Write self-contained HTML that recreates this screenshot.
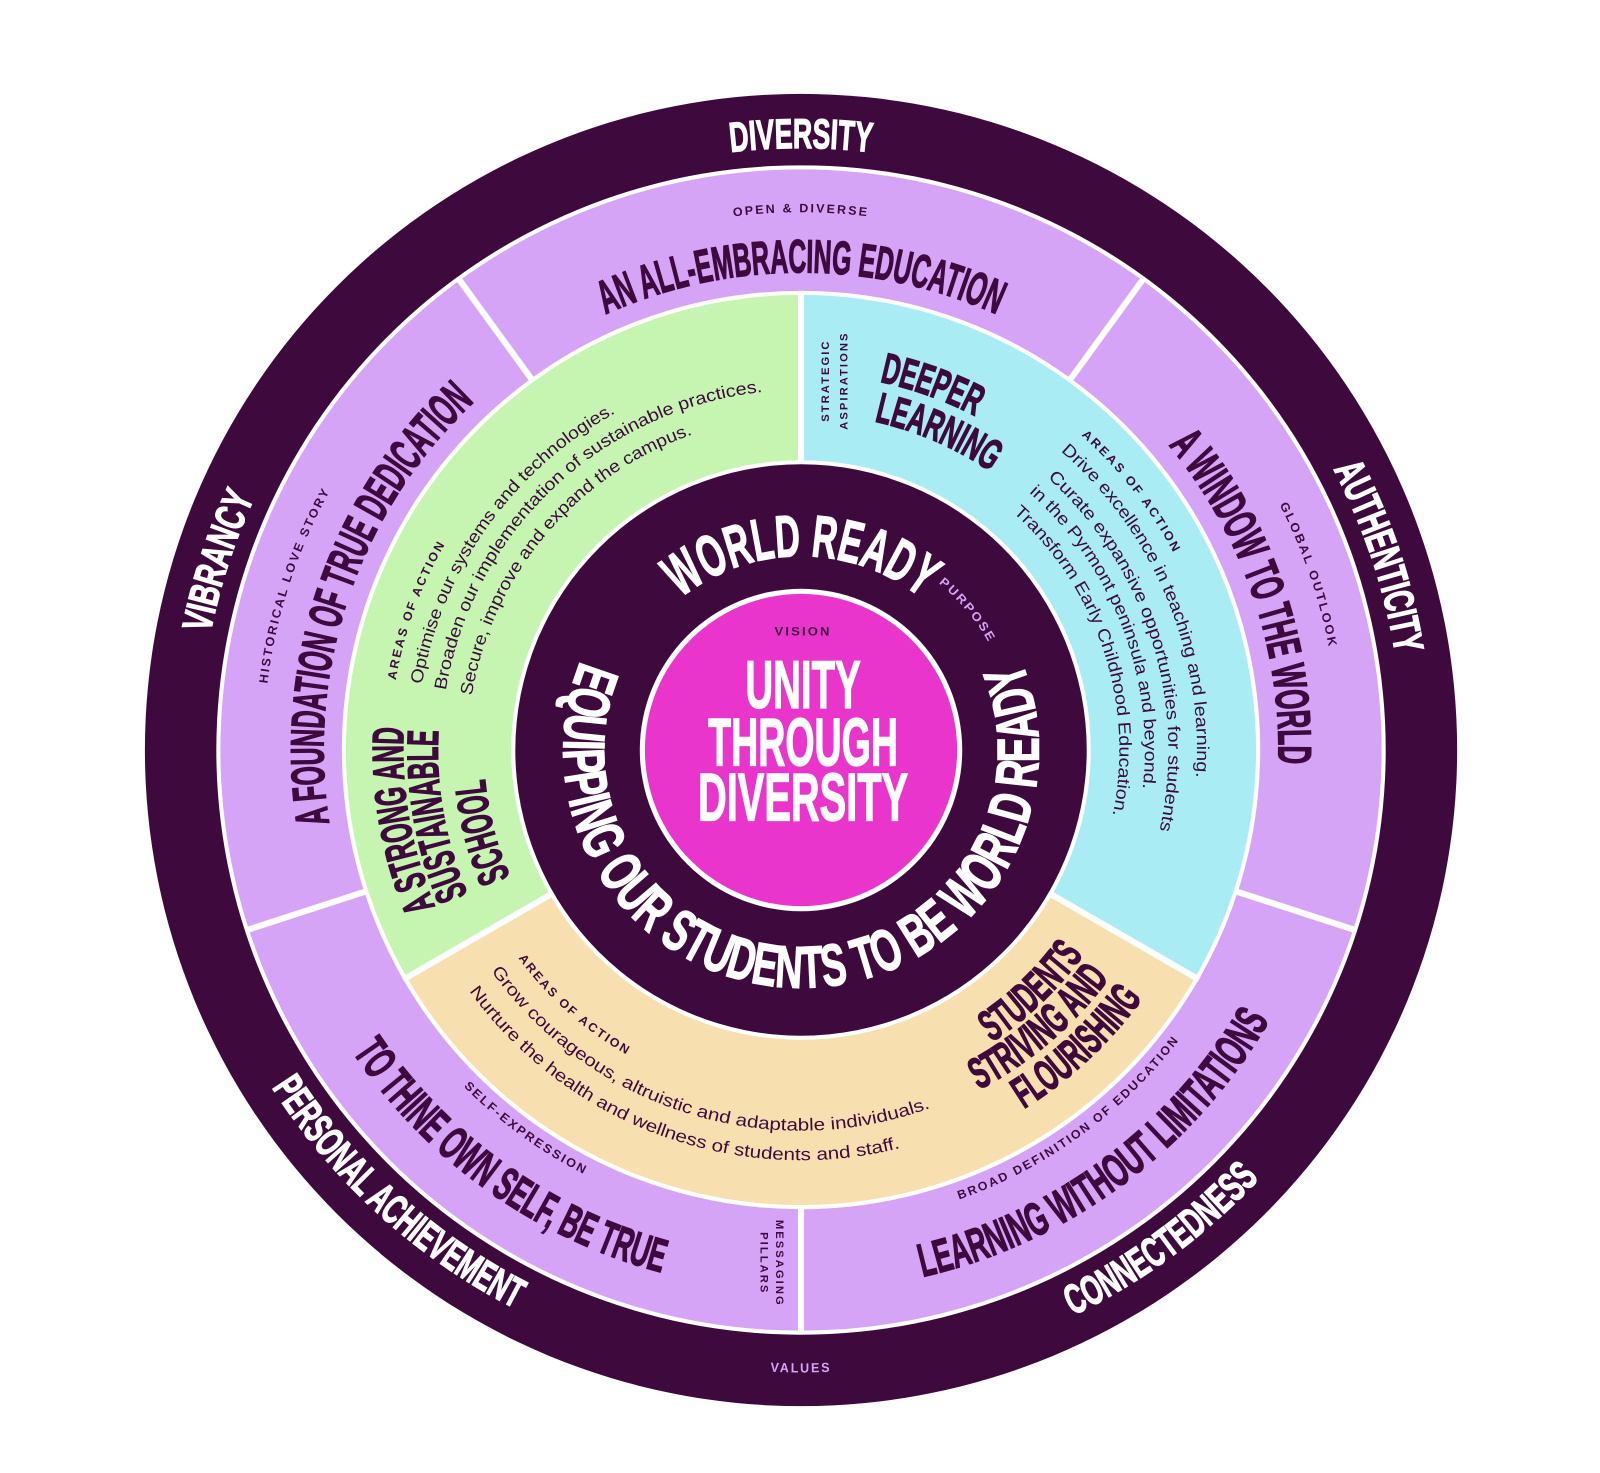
<!DOCTYPE html>
<html><head><meta charset="utf-8">
<style>
html,body{margin:0;padding:0;background:#fff;}
svg{display:block;}
.b{font-family:"Liberation Sans Narrow","Liberation Sans",sans-serif;font-weight:bold;}
.s{font-family:"Liberation Sans",sans-serif;font-weight:bold;letter-spacing:2px;}
.r{font-family:"Liberation Sans",sans-serif;}
.bw{stroke:#fff;stroke-width:1.3;}
.bd{stroke:#3e0a3e;stroke-width:1.3;}
</style></head>
<body>
<svg width="1600" height="1473" viewBox="0 0 1568 1443.5" xmlns="http://www.w3.org/2000/svg">
<defs>
<path id="cw590" d="M785,1325 A590,590 0 0 1 785,145 A590,590 0 0 1 785,1325"/>
<path id="cw527" d="M785,1262 A527,527 0 0 1 785,208 A527,527 0 0 1 785,1262"/>
<path id="cw468" d="M785,1203 A468,468 0 0 1 785,267 A468,468 0 0 1 785,1203"/>
<path id="cw413" d="M785,1148 A413,413 0 0 1 785,322 A413,413 0 0 1 785,1148"/>
<path id="cw388" d="M785,1123 A388,388 0 0 1 785,347 A388,388 0 0 1 785,1123"/>
<path id="cw360" d="M785,1095 A360,360 0 0 1 785,375 A360,360 0 0 1 785,1095"/>
<path id="cw337" d="M785,1072 A337,337 0 0 1 785,398 A337,337 0 0 1 785,1072"/>
<path id="cw312" d="M785,1047 A312,312 0 0 1 785,423 A312,312 0 0 1 785,1047"/>
<path id="cw369" d="M785,1104 A369,369 0 0 1 785,366 A369,369 0 0 1 785,1104"/>
<path id="cw330" d="M785,1065 A330,330 0 0 1 785,405 A330,330 0 0 1 785,1065"/>
<path id="cw403" d="M785,1138 A403,403 0 0 1 785,332 A403,403 0 0 1 785,1138"/>
<path id="cw377" d="M785,1112 A377,377 0 0 1 785,358 A377,377 0 0 1 785,1112"/>
<path id="cw353" d="M785,1088 A353,353 0 0 1 785,382 A353,353 0 0 1 785,1088"/>
<path id="cw327" d="M785,1062 A327,327 0 0 1 785,408 A327,327 0 0 1 785,1062"/>
<path id="cw390" d="M785,1125 A390,390 0 0 1 785,345 A390,390 0 0 1 785,1125"/>
<path id="cw356" d="M785,1091 A356,356 0 0 1 785,379 A356,356 0 0 1 785,1091"/>
<path id="cw311" d="M785,1046 A311,311 0 0 1 785,424 A311,311 0 0 1 785,1046"/>
<path id="cw190" d="M785,925 A190,190 0 0 1 785,545 A190,190 0 0 1 785,925"/>
<path id="cw212" d="M785,947 A212,212 0 0 1 785,523 A212,212 0 0 1 785,947"/>
<path id="ccw615" d="M785,120 A615,615 0 0 0 785,1350 A615,615 0 0 0 785,120"/>
<path id="ccw610" d="M785,125 A610,610 0 0 0 785,1345 A610,610 0 0 0 785,125"/>
<path id="ccw530" d="M785,205 A530,530 0 0 0 785,1265 A530,530 0 0 0 785,205"/>
<path id="ccw467" d="M785,268 A467,467 0 0 0 785,1202 A467,467 0 0 0 785,268"/>
<path id="ccw344" d="M785,391 A344,344 0 0 0 785,1079 A344,344 0 0 0 785,391"/>
<path id="ccw373" d="M785,362 A373,373 0 0 0 785,1108 A373,373 0 0 0 785,362"/>
<path id="ccw402" d="M785,333 A402,402 0 0 0 785,1137 A402,402 0 0 0 785,333"/>
<path id="ccw342" d="M785,393 A342,342 0 0 0 785,1077 A342,342 0 0 0 785,393"/>
<path id="ccw376" d="M785,359 A376,376 0 0 0 785,1111 A376,376 0 0 0 785,359"/>
<path id="ccw414" d="M785,321 A414,414 0 0 0 785,1149 A414,414 0 0 0 785,321"/>
<path id="ccw233" d="M785,502 A233,233 0 0 0 785,968 A233,233 0 0 0 785,502"/>
</defs>

<circle cx="785" cy="735" r="643" fill="#3e0a3e"/>
<circle cx="785" cy="735" r="573" fill="#fff"/>
<circle cx="785" cy="735" r="569" fill="#d6a4f7"/>
<g stroke="#fff" stroke-width="6">
<line x1="785" y1="735" x2="785" y2="1306" transform="rotate(-144 785 735)" />
<line x1="785" y1="735" x2="785" y2="1306" transform="rotate(-72 785 735)" />
<line x1="785" y1="735" x2="785" y2="1306" />
<line x1="785" y1="735" x2="785" y2="1306" transform="rotate(72 785 735)" />
<line x1="785" y1="735" x2="785" y2="1306" transform="rotate(144 785 735)" />
</g>
<circle cx="785" cy="735" r="450" fill="#fff"/>
<path d="M785,735 L785,289 A446,446 0 0 1 1171.2,958 Z" fill="#a9ecf4"/>
<path d="M785,735 L1171.2,958 A446,446 0 0 1 398.8,958 Z" fill="#f8dfaf"/>
<path d="M785,735 L398.8,958 A446,446 0 0 1 785,289 Z" fill="#c5f5b1"/>
<g stroke="#fff" stroke-width="6">
<line x1="785" y1="735" x2="785" y2="285"/>
<line x1="785" y1="735" x2="1175" y2="960"/>
<line x1="785" y1="735" x2="395" y2="960"/>
</g>
<circle cx="785" cy="735" r="284" fill="#fff"/>
<circle cx="785" cy="735" r="280" fill="#3e0a3e"/>
<circle cx="785" cy="735" r="158" fill="#fff"/>
<circle cx="785" cy="735" r="153" fill="#e935cc"/>

<g class="b bw" fill="#fff" font-size="41" text-anchor="middle">
<text><textPath href="#cw590" startOffset="50%" textLength="138" lengthAdjust="spacingAndGlyphs">DIVERSITY</textPath></text>
<text transform="rotate(-72 785 735)"><textPath href="#cw590" startOffset="50%" textLength="140" lengthAdjust="spacingAndGlyphs">VIBRANCY</textPath></text>
<text transform="rotate(71.5 785 735)"><textPath href="#cw590" startOffset="50%" textLength="192" lengthAdjust="spacingAndGlyphs">AUTHENTICITY</textPath></text>
<text transform="rotate(42.3 785 735)"><textPath href="#ccw615" startOffset="50%" textLength="326" lengthAdjust="spacingAndGlyphs">PERSONAL ACHIEVEMENT</textPath></text>
<text transform="rotate(-36.3 785 735)"><textPath href="#ccw615" startOffset="50%" textLength="228" lengthAdjust="spacingAndGlyphs">CONNECTEDNESS</textPath></text>
</g>
<text class="s" fill="#d6a4f7" font-size="13" text-anchor="middle"><textPath href="#ccw610" startOffset="50%" textLength="60" lengthAdjust="spacingAndGlyphs">VALUES</textPath></text>

<g class="s" fill="#3e0a3e" font-size="12" text-anchor="middle">
<text><textPath href="#cw527" startOffset="50%" textLength="133" lengthAdjust="spacingAndGlyphs">OPEN &amp; DIVERSE</textPath></text>
<text transform="rotate(71 785 735)"><textPath href="#cw527" startOffset="50%" textLength="150" lengthAdjust="spacingAndGlyphs">GLOBAL OUTLOOK</textPath></text>
<text transform="rotate(-72 785 735)"><textPath href="#cw527" startOffset="50%" textLength="201" lengthAdjust="spacingAndGlyphs">HISTORICAL LOVE STORY</textPath></text>
<text transform="rotate(-36 785 735)"><textPath href="#ccw467" startOffset="50%" textLength="271" lengthAdjust="spacingAndGlyphs">BROAD DEFINITION OF EDUCATION</textPath></text>
<text transform="rotate(36 785 735)"><textPath href="#ccw467" startOffset="50%" textLength="148" lengthAdjust="spacingAndGlyphs">SELF-EXPRESSION</textPath></text>
</g>
<g class="b bd" fill="#3e0a3e" font-size="46" text-anchor="middle">
<text><textPath href="#cw468" startOffset="50%" textLength="395" lengthAdjust="spacingAndGlyphs">AN ALL-EMBRACING EDUCATION</textPath></text>
<text transform="rotate(71 785 735)"><textPath href="#cw468" startOffset="50%" textLength="338" lengthAdjust="spacingAndGlyphs">A WINDOW TO THE WORLD</textPath></text>
<text transform="rotate(-71 785 735)"><textPath href="#cw468" startOffset="50%" textLength="455" lengthAdjust="spacingAndGlyphs">A FOUNDATION OF TRUE DEDICATION</textPath></text>
<text transform="rotate(-36.5 785 735)"><textPath href="#ccw530" startOffset="50%" textLength="435" lengthAdjust="spacingAndGlyphs">LEARNING WITHOUT LIMITATIONS</textPath></text>
<text transform="rotate(35.5 785 735)"><textPath href="#ccw530" startOffset="50%" textLength="380" lengthAdjust="spacingAndGlyphs">TO THINE OWN SELF, BE TRUE</textPath></text>
</g>
<g class="s" fill="#3e0a3e" font-size="11" text-anchor="middle">
<text transform="translate(757 1238) rotate(90)"><tspan x="0" y="-3.5">MESSAGING</tspan><tspan x="0" y="11.5">PILLARS</tspan></text>
<text transform="translate(817 373) rotate(-90)"><tspan x="0" y="-4.5">STRATEGIC</tspan><tspan x="0" y="13.5">ASPIRATIONS</tspan></text>
</g>

<g fill="#3e0a3e" text-anchor="middle">
<text class="s" font-size="12" transform="rotate(52 785 735)"><textPath href="#cw413" startOffset="50%" textLength="149" lengthAdjust="spacingAndGlyphs">AREAS OF ACTION</textPath></text>
<text class="r" font-size="17" transform="rotate(67.5 785 735)"><textPath href="#cw388" startOffset="50%" textLength="359" lengthAdjust="spacingAndGlyphs">Drive excellence in teaching and learning.</textPath></text>
<text class="r" font-size="17" transform="rotate(72.4 785 735)"><textPath href="#cw360" startOffset="50%" textLength="380" lengthAdjust="spacingAndGlyphs">Curate expansive opportunities for students</textPath></text>
<text class="r" font-size="17" transform="rotate(69 785 735)"><textPath href="#cw337" startOffset="50%" textLength="323" lengthAdjust="spacingAndGlyphs">in the Pyrmont peninsula and beyond.</textPath></text>
<text class="r" font-size="17" transform="rotate(71.8 785 735)"><textPath href="#cw312" startOffset="50%" textLength="327" lengthAdjust="spacingAndGlyphs">Transform Early Childhood Education.</textPath></text>
<text class="b bd" font-size="42" transform="rotate(19.8 785 735)"><textPath href="#cw369" startOffset="50%" textLength="100" lengthAdjust="spacingAndGlyphs">DEEPER</textPath></text>
<text class="b bd" font-size="42" transform="rotate(23.4 785 735)"><textPath href="#cw330" startOffset="50%" textLength="125" lengthAdjust="spacingAndGlyphs">LEARNING</textPath></text>
</g>

<g fill="#3e0a3e" text-anchor="middle">
<text class="s" font-size="12" transform="rotate(-70 785 735)"><textPath href="#cw403" startOffset="50%" textLength="144" lengthAdjust="spacingAndGlyphs">AREAS OF ACTION</textPath></text>
<text class="r" font-size="17" transform="rotate(-54.5 785 735)"><textPath href="#cw377" startOffset="50%" textLength="338" lengthAdjust="spacingAndGlyphs">Optimise our systems and technologies.</textPath></text>
<text class="r" font-size="17" transform="rotate(-43.3 785 735)"><textPath href="#cw353" startOffset="50%" textLength="458" lengthAdjust="spacingAndGlyphs">Broaden our implementation of sustainable practices.</textPath></text>
<text class="r" font-size="17" transform="rotate(-49.8 785 735)"><textPath href="#cw327" startOffset="50%" textLength="352" lengthAdjust="spacingAndGlyphs">Secure, improve and expand the campus.</textPath></text>
<text class="b bd" font-size="43" transform="rotate(-100 785 735)"><textPath href="#cw390" startOffset="50%" textLength="180" lengthAdjust="spacingAndGlyphs">A STRONG AND</textPath></text>
<text class="b bd" font-size="43" transform="rotate(-100.2 785 735)"><textPath href="#cw356" startOffset="50%" textLength="165" lengthAdjust="spacingAndGlyphs">SUSTAINABLE</textPath></text>
<text class="b bd" font-size="43" transform="rotate(-104.4 785 735)"><textPath href="#cw311" startOffset="50%" textLength="100" lengthAdjust="spacingAndGlyphs">SCHOOL</textPath></text>
</g>

<g fill="#3e0a3e" text-anchor="middle">
<text class="s" font-size="12" transform="rotate(41.6 785 735)"><textPath href="#ccw344" startOffset="50%" textLength="145" lengthAdjust="spacingAndGlyphs">AREAS OF ACTION</textPath></text>
<text class="r" font-size="17" transform="rotate(17.3 785 735)"><textPath href="#ccw373" startOffset="50%" textLength="484" lengthAdjust="spacingAndGlyphs">Grow courageous, altruistic and adaptable individuals.</textPath></text>
<text class="r" font-size="17" transform="rotate(20 785 735)"><textPath href="#ccw402" startOffset="50%" textLength="477" lengthAdjust="spacingAndGlyphs">Nurture the health and wellness of students and staff.</textPath></text>
<text class="b bd" font-size="43" transform="rotate(-43.6 785 735)"><textPath href="#ccw342" startOffset="50%" textLength="125" lengthAdjust="spacingAndGlyphs">STUDENTS</textPath></text>
<text class="b bd" font-size="43" transform="rotate(-40.6 785 735)"><textPath href="#ccw376" startOffset="50%" textLength="170" lengthAdjust="spacingAndGlyphs">STRIVING AND</textPath></text>
<text class="b bd" font-size="43" transform="rotate(-42.9 785 735)"><textPath href="#ccw414" startOffset="50%" textLength="160" lengthAdjust="spacingAndGlyphs">FLOURISHING</textPath></text>
</g>

<g class="b bw" fill="#fff" font-size="58" text-anchor="middle">
<text><textPath href="#cw190" startOffset="50%" textLength="255" lengthAdjust="spacingAndGlyphs">WORLD READY</textPath></text>
<text><textPath href="#ccw233" startOffset="50%" textLength="911" lengthAdjust="spacingAndGlyphs">EQUIPPING OUR STUDENTS TO BE WORLD READY</textPath></text>
</g>
<text class="s" fill="#d6a4f7" font-size="12" text-anchor="middle" transform="rotate(50 785 735)"><textPath href="#cw212" startOffset="50%" textLength="78" lengthAdjust="spacingAndGlyphs">PURPOSE</textPath></text>

<text class="s" x="787" y="623" fill="#3e0a3e" font-size="12" text-anchor="middle" textLength="56" lengthAdjust="spacingAndGlyphs">VISION</text>
<g class="b bw" fill="#fff" font-size="66" text-anchor="middle">
<text x="787" y="694" textLength="113" lengthAdjust="spacingAndGlyphs">UNITY</text>
<text x="787" y="750" textLength="186" lengthAdjust="spacingAndGlyphs">THROUGH</text>
<text x="787" y="804" textLength="206" lengthAdjust="spacingAndGlyphs">DIVERSITY</text>
</g>
</svg>
</body></html>
